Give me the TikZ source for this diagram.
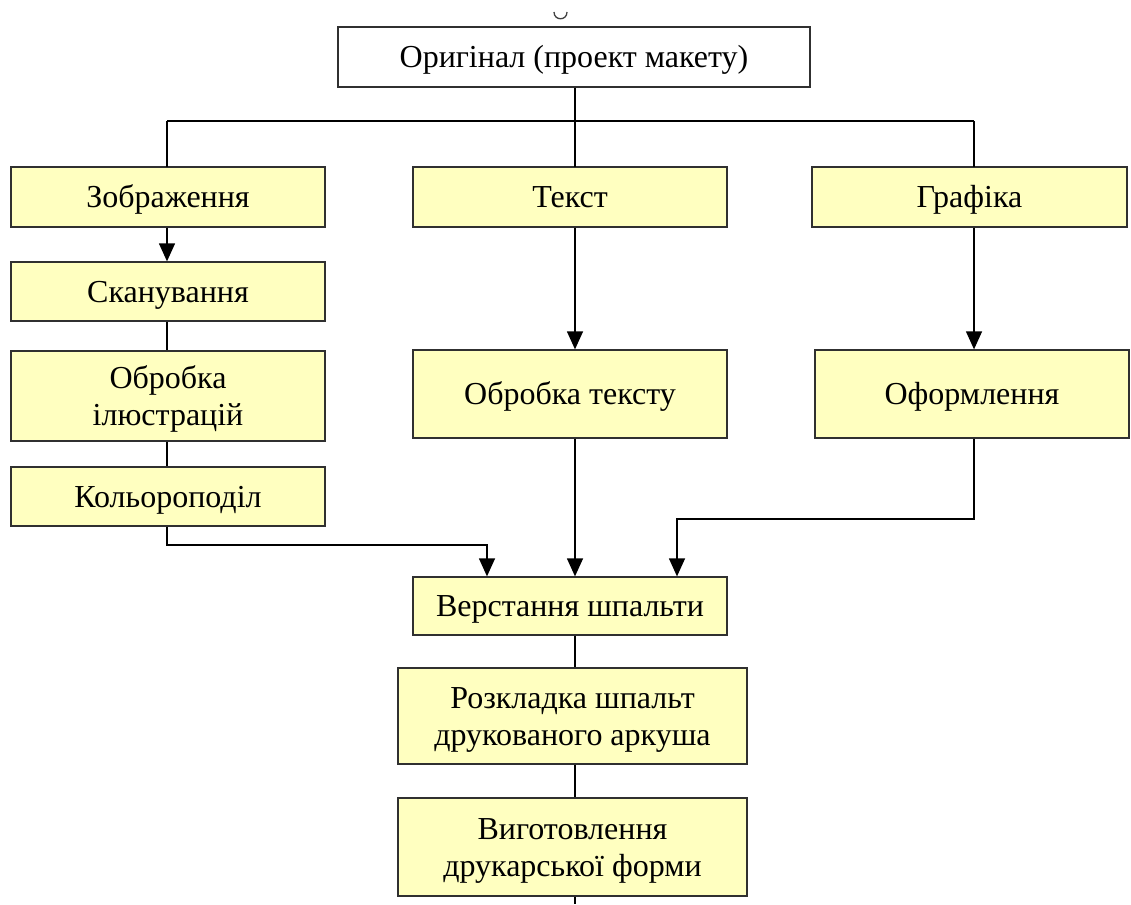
\documentclass[tikz,border=0pt]{standalone}
\usepackage{fontspec}
\setmainfont{Liberation Serif}
\usetikzlibrary{arrows.meta}
\definecolor{boxfill}{HTML}{FFFFC0}
\definecolor{boxline}{HTML}{303030}
\newcommand\mystrut{\rule[-8pt]{0pt}{37pt}}
\begin{document}
\begin{tikzpicture}[x=1pt,y=-1pt,
  box/.style={draw=boxline,line width=1.3pt,fill=boxfill,inner sep=0pt,
    font=\fontsize{32}{37}\selectfont,align=center},
  wbox/.style={box,fill=white},
  conn/.style={draw=black,line width=1.3pt},
  arr/.style={conn,-{Triangle[length=18pt,width=16pt]}}]
\useasboundingbox (0,0) rectangle (1131,904);
% small arc at top
\draw[line width=1.3pt,black!75] (554,12) .. controls (554,21) and (567,21) .. (567,12);
\node[wbox,minimum width=472pt,minimum height=60pt] (orig) at (574,57) {\mystrut Оригінал (проект макету)};
\node[box,minimum width=314pt,minimum height=60pt] (img) at (168,197) {\mystrut Зображення};
\node[box,minimum width=314pt,minimum height=60pt] (txt) at (570,197) {\mystrut Текст};
\node[box,minimum width=315pt,minimum height=60pt] (gr) at (969.5,197) {\mystrut Графіка};
\node[box,minimum width=314pt,minimum height=59pt] (scan) at (168,291.5) {\mystrut Сканування};
\node[box,minimum width=314pt,minimum height=90pt] (obil) at (168,396) {\mystrut Обробка\\\mystrut ілюстрацій};
\node[box,minimum width=314pt,minimum height=59pt] (kol) at (168,496.5) {\mystrut Кольороподіл};
\node[box,minimum width=314pt,minimum height=88pt] (obt) at (570,394) {\mystrut Обробка тексту};
\node[box,minimum width=314pt,minimum height=88pt] (ofo) at (972,394) {\mystrut Оформлення};
\node[box,minimum width=314pt,minimum height=58pt] (ver) at (570,606) {\mystrut Верстання шпальти};
\node[box,minimum width=349pt,minimum height=96pt] (roz) at (572.5,716) {\mystrut Розкладка шпальт\\\mystrut друкованого аркуша};
\node[box,minimum width=349pt,minimum height=98pt] (vyg) at (572.5,847) {\mystrut Виготовлення\\\mystrut друкарської форми};
\coordinate (end) at (575,904);
% tree from original
\draw[conn] (orig.south -| 575,0) -- (575,121) coordinate (hub);
\draw[conn] (167,121) -- (974,121);
\draw[conn] (167,121) -- (167,167);
\draw[conn] (575,121) -- (575,167);
\draw[conn] (974,121) -- (974,167);
% left column
\draw[arr] (img.south -| 167,0) -- (scan.north -| 167,0);
\draw[conn] (scan.south -| 167,0) -- (obil.north -| 167,0);
\draw[conn] (obil.south -| 167,0) -- (kol.north -| 167,0);
\draw[arr] (kol.south -| 167,0) -- (167,545) -- (487,545) -- (ver.north -| 487,0);
% middle column
\draw[arr] (txt.south -| 575,0) -- (obt.north -| 575,0);
\draw[arr] (obt.south -| 575,0) -- (ver.north -| 575,0);
% right column
\draw[arr] (gr.south -| 974,0) -- (ofo.north -| 974,0);
\draw[arr] (ofo.south -| 974,0) -- (974,519) -- (677,519) -- (ver.north -| 677,0);
% bottom
\draw[conn] (ver.south -| 575,0) -- (roz.north -| 575,0);
\draw[conn] (roz.south -| 575,0) -- (vyg.north -| 575,0);
\draw[conn] (vyg.south -| 575,0) -- (end);
\end{tikzpicture}
\end{document}
